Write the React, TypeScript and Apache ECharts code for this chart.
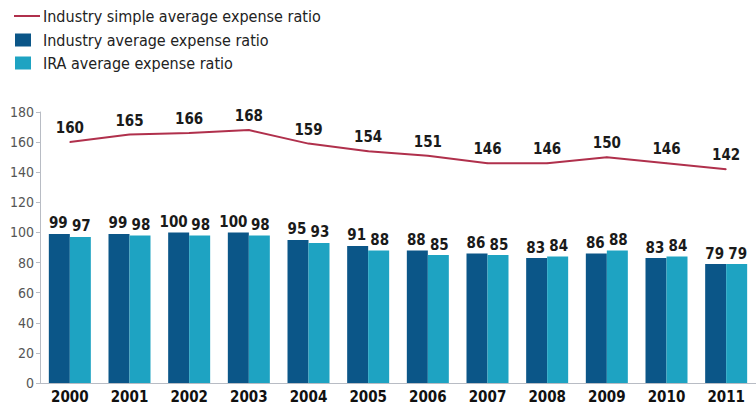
import React, { useEffect, useRef } from "react";
import * as echarts from "echarts";

const years = ["2000", "2001", "2002", "2003", "2004", "2005", "2006", "2007", "2008", "2009", "2010", "2011"];
const simpleAvg = [160, 165, 166, 168, 159, 154, 151, 146, 146, 150, 146, 142];
const industryAvg = [99, 99, 100, 100, 95, 91, 88, 86, 83, 86, 83, 79];
const iraAvg = [97, 98, 98, 98, 93, 88, 85, 85, 84, 88, 84, 79];
const yTicks = { min: 0, max: 180, interval: 20 };

const NAMES = [
  "Industry simple average expense ratio",
  "Industry average expense ratio",
  "IRA average expense ratio",
];
const FONT = "'Liberation Sans Narrow', 'DejaVu Sans Condensed', 'Noto Sans', sans-serif";
const DARK = "#0b5688";
const LIGHT = "#1ea3c2";
const RED = "#b0304c";

export default function App() {
  const ref = useRef<HTMLDivElement>(null);
  useEffect(() => {
    const chart = echarts.init(ref.current!, undefined, { renderer: "svg" });
    const labelStyle = {
      show: true,
      position: "top" as const,
      fontFamily: FONT,
      fontWeight: "bold" as const,
      fontSize: 15,
      color: "#1a1a1a",
    };
    const legendText = { fontFamily: FONT, fontSize: 16, color: "#222", fontWeight: 500 };
    const darkData = industryAvg.map((v) => ({
      value: v,
      label: { offset: [v >= 100 ? -5 : -1, 0] },
    }));
    const lightData = iraAvg.map((v) => ({ value: v, label: { offset: [1, 0] } }));
    chart.setOption({
      animation: false,
      legend: [
        {
          data: [NAMES[0]],
          left: 14,
          top: 8,
          padding: 0,
          itemWidth: 26,
          itemHeight: 2,
          icon: "rect",
          textStyle: { ...legendText, padding: [0, 0, 0, -2] },
          selectedMode: false,
        },
        {
          data: [NAMES[1]],
          left: 15,
          top: 32,
          padding: 0,
          itemWidth: 16,
          itemHeight: 13,
          icon: "rect",
          textStyle: { ...legendText, padding: [0, 0, 0, 7] },
          selectedMode: false,
        },
        {
          data: [NAMES[2]],
          left: 15,
          top: 55,
          padding: 0,
          itemWidth: 16,
          itemHeight: 13,
          icon: "rect",
          textStyle: { ...legendText, padding: [0, 0, 0, 7] },
          selectedMode: false,
        },
      ],
      grid: { left: 40, top: 112, width: 732, height: 271, containLabel: false },
      xAxis: {
        type: "category",
        data: years,
        axisLine: { lineStyle: { color: "#b8bcc4", width: 1 } },
        axisTick: { show: false },
        axisLabel: {
          fontFamily: FONT,
          fontWeight: "bold",
          fontSize: 15,
          color: "#111",
          margin: 6,
        },
      },
      yAxis: {
        type: "value",
        min: yTicks.min,
        max: yTicks.max,
        interval: yTicks.interval,
        splitLine: { show: false },
        axisLine: { show: true, lineStyle: { color: "#b8bcc4", width: 1 } },
        axisTick: { show: true, length: 4, lineStyle: { color: "#b8bcc4" } },
        axisLabel: { fontFamily: FONT, fontSize: 14, color: "#555", margin: 6 },
      },
      series: [
        {
          name: NAMES[0],
          type: "line",
          data: simpleAvg,
          symbol: "circle",
          symbolSize: 1,
          showSymbol: true,
          lineStyle: { color: RED, width: 2 },
          itemStyle: { color: RED },
          label: { ...labelStyle, distance: 6 },
        },
        {
          name: NAMES[1],
          type: "bar",
          data: darkData,
          barWidth: 21,
          barGap: "0%",
          itemStyle: { color: DARK },
          label: { ...labelStyle, distance: 3 },
        },
        {
          name: NAMES[2],
          type: "bar",
          data: lightData,
          barWidth: 21,
          itemStyle: { color: LIGHT },
          label: { ...labelStyle, distance: 3 },
        },
      ],
    });
    return () => chart.dispose();
  }, []);
  return (
    <div
      ref={ref}
      style={{ position: "absolute", left: 0, top: 0, width: 756, height: 407, background: "#fff" }}
    />
  );
}
